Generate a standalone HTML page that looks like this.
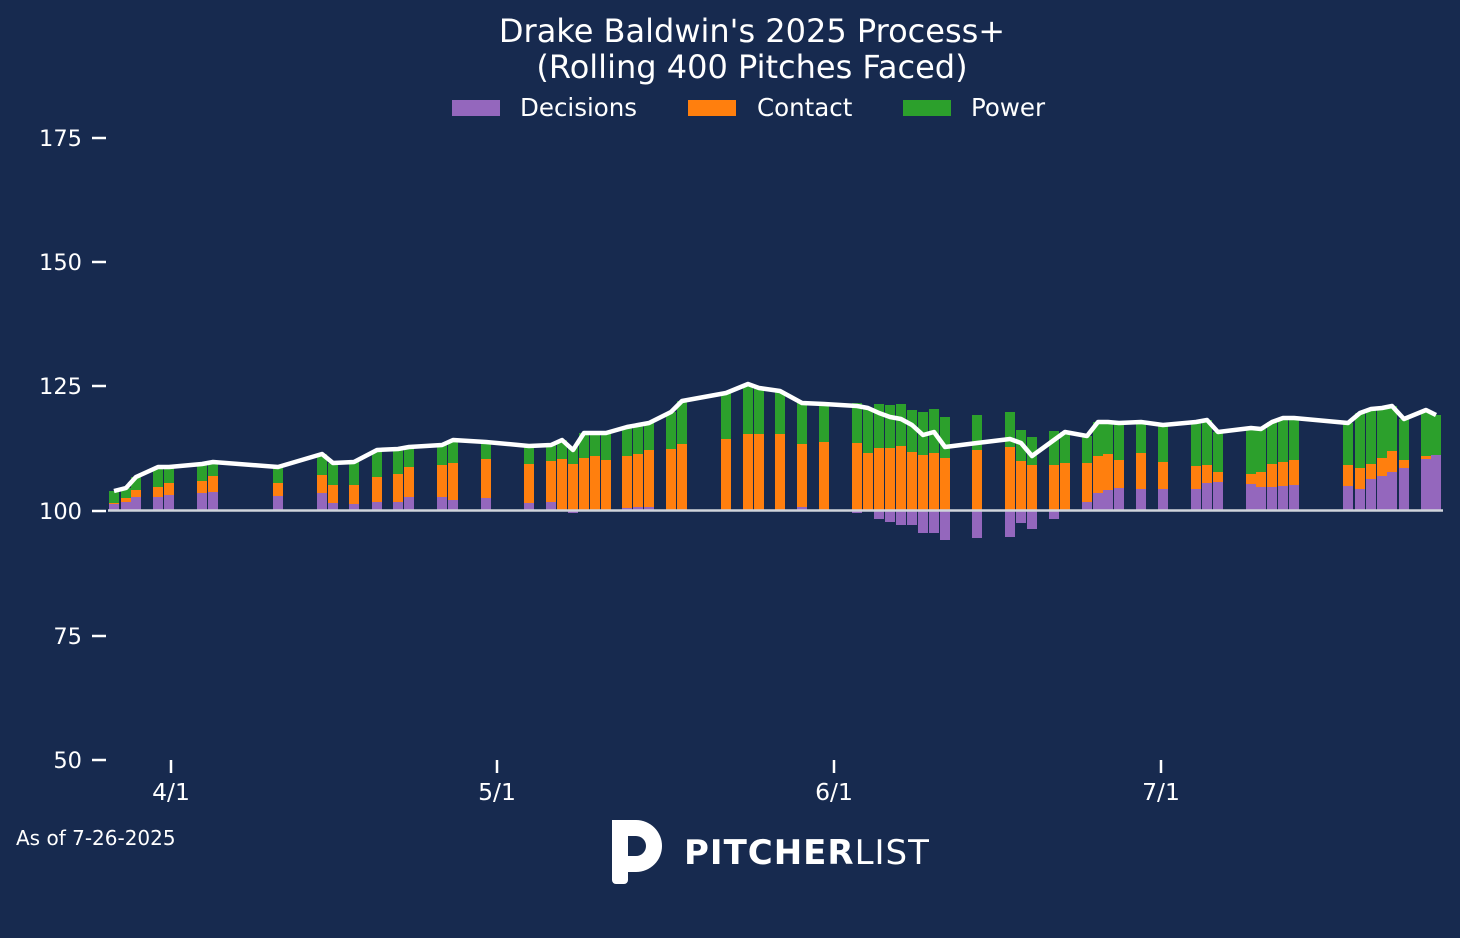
<!DOCTYPE html>
<html><head><meta charset="utf-8"><style>
html,body{margin:0;padding:0;background:#172a4f;}
svg{display:block;font-family:"DejaVu Sans","Liberation Sans",sans-serif;}
</style></head><body>
<svg id="s" width="1460" height="938" viewBox="0 0 1460 938" xmlns="http://www.w3.org/2000/svg">
<rect width="1460" height="938" fill="#172a4f"/>
<text x="752" y="42" font-size="32" fill="#fff" text-anchor="middle">Drake Baldwin's 2025 Process+</text>
<text x="752" y="78" font-size="32" fill="#fff" text-anchor="middle">(Rolling 400 Pitches Faced)</text>
<rect x="452" y="100" width="48" height="16" fill="#9467bd"/>
<text x="520" y="116" font-size="24.5" fill="#fff">Decisions</text>
<rect x="688" y="100" width="48" height="16" fill="#ff7f0e"/>
<text x="757" y="116" font-size="24.5" fill="#fff">Contact</text>
<rect x="903" y="100" width="48" height="16" fill="#2ca02c"/>
<text x="971" y="116" font-size="24.5" fill="#fff">Power</text>
<g fill="#fff" font-size="22.5" text-anchor="end">
<text x="82" y="146">175</text><text x="82" y="270">150</text><text x="82" y="394">125</text>
<text x="82" y="519">100</text><text x="82" y="644">75</text><text x="82" y="768">50</text>
</g>
<g stroke="#fff" stroke-width="2.5">
<line x1="92" y1="138" x2="106" y2="138"/><line x1="92" y1="262" x2="106" y2="262"/>
<line x1="92" y1="386" x2="106" y2="386"/><line x1="92" y1="511" x2="106" y2="511"/>
<line x1="92" y1="636" x2="106" y2="636"/><line x1="92" y1="760" x2="106" y2="760"/>
<line x1="171" y1="760" x2="171" y2="773"/><line x1="497" y1="760" x2="497" y2="773"/>
<line x1="834" y1="760" x2="834" y2="773"/><line x1="1161" y1="760" x2="1161" y2="773"/>
</g>
<g fill="#fff" font-size="23.5" text-anchor="middle">
<text x="171" y="800">4/1</text><text x="497" y="800">5/1</text><text x="834" y="800">6/1</text><text x="1161" y="800">7/1</text>
</g>
<g id="bars"></g>
<line x1="108" y1="510.5" x2="1443" y2="510.5" stroke="#d0d4dc" stroke-width="2.5"/>
<polyline id="ln" fill="none" stroke="#fff" stroke-width="4.5" stroke-linejoin="round"/>
<text x="16" y="845" font-size="20" fill="#fff">As of 7-26-2025</text>
<g fill="#fff">
<path d="M612 820 h24 a26 26 0 0 1 0 52 h-12 v-16 h12 a10 10 0 0 0 0 -20 h-8 v44 a4 4 0 0 1 -4 4 h-8 a4 4 0 0 1 -4 -4 z"/>
</g>
<text x="684" y="864" font-size="34" fill="#fff" font-weight="bold" letter-spacing="1">PITCHER<tspan font-weight="normal">LIST</tspan></text>
</svg>
<script>
var d=[[109,504,503,491],[121,502,498,488],[131,497,490,477],[153,497,487,467],[164,495,483,467],[197,493,481,464],[208,492,476,462],[273,496,483,467],[317,493,475,454],[328,503,485,463],[349,504,485,462],[372,502,477,450],[393,502,474,449],[404,497,467,447],[437,497,465,445],[448,500,463,440],[481,498,459,442],[524,503,464,446],[546,502,461,445],[557,510,459,440],[568,513,464,447],[579,510,458,433],[590,510,456,433],[601,510,460,433],[622,508,456,427],[633,507,454,425],[644,507,450,423],[666,510,449,412],[677,510,444,401],[721,510,439,393],[743,510,434,384],[754,510,434,388],[775,510,434,391],[797,507,444,403],[819,510,442,404],[852,513,443,403],[863,510,453,408],[874,519,448,404],[885,522,448,405],[896,525,446,404],[907,525,452,410],[918,533,455,412],[929,533,453,409],[940,540,458,417],[972,538,450,415],[1005,537,447,412],[1016,523,461,430],[1027,529,465,437],[1049,519,465,431],[1060,510,463,432],[1082,502,463,436],[1093,493,456,422],[1103,490,454,422],[1114,488,460,423],[1136,489,453,422],[1158,489,462,425],[1191,489,466,422],[1202,483,465,420],[1213,482,472,432],[1246,484,474,428],[1256,487,472,429],[1267,487,464,422],[1278,486,462,418],[1289,485,460,418],[1343,486,465,423],[1355,489,468,413],[1366,479,464,409],[1377,476,458,408],[1387,472,451,406],[1399,468,460,419],[1421,459,456,410],[1431,455,455,415]];
var B=510,h='',pts=[];
d.forEach(function(b){var x=b[0],w=10,p=b[1],o=b[2],g=b[3];
 if(p<B){h+='<rect x="'+x+'" y="'+p+'" width="'+w+'" height="'+(B-p)+'" fill="#9467bd"/>';
  h+='<rect x="'+x+'" y="'+o+'" width="'+w+'" height="'+(p-o)+'" fill="#ff7f0e"/>';}
 else{ if(p>B)h+='<rect x="'+x+'" y="'+B+'" width="'+w+'" height="'+(p-B)+'" fill="#9467bd"/>';
  h+='<rect x="'+x+'" y="'+o+'" width="'+w+'" height="'+(B-o)+'" fill="#ff7f0e"/>';}
 h+='<rect x="'+x+'" y="'+g+'" width="'+w+'" height="'+(o-g)+'" fill="#2ca02c"/>';
 var ly=g+(p>B?p-B:0); pts.push((x+5)+','+ly);});
document.getElementById('bars').innerHTML=h;
document.getElementById('ln').setAttribute('points',pts.join(' '));
</script>
</body></html>
